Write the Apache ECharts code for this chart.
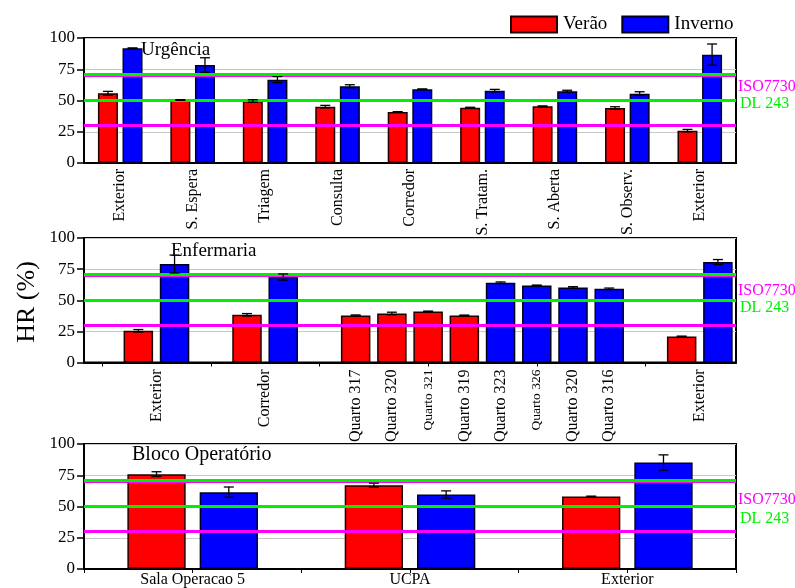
<!DOCTYPE html>
<html>
<head>
<meta charset="utf-8">
<script src="https://cdn.jsdelivr.net/npm/echarts@6/dist/echarts.min.js"></script>
<style>
  html, body { margin: 0; padding: 0; background: #fff; }
  #chart { width: 795px; height: 588px; }
</style>
</head>
<body>
<div id="chart"></div>
<script>
// ---- Urgência ----
const URG_CATS = ['Exterior', 'S. Espera', 'Triagem', 'Consulta', 'Corredor', 'S. Tratam.', 'S. Aberta', 'S. Observ.', 'Exterior'];
const URG_VERAO = [55.8, 50.4, 49.6, 45.1, 40.8, 44.3, 45.4, 44.0, 25.9];
const URG_VERAO_ERR = [1.5, 0.3, 1.0, 1.0, 0.3, 0.3, 0.3, 1.0, 1.0];
const URG_INVERNO = [91.8, 78.4, 66.7, 61.4, 59.0, 57.9, 57.4, 55.5, 86.7];
const URG_INVERNO_ERR = [0.3, 5.8, 2.4, 1.2, 0.3, 1.0, 0.8, 1.5, 8.5];

// ---- Enfermaria (one slot per bar, empty slots separate the groups) ----
const ENF_SLOTS = ['', 'Exterior', 'Exterior', '', 'Corredor', 'Corredor', '',
  'Quarto 317', 'Quarto 320', 'Quarto 321', 'Quarto 319',
  'Quarto 323', 'Quarto 326', 'Quarto 320', 'Quarto 316', '', 'Exterior', 'Exterior'];
const ENF_VERAO = [null, 25.5, null, null, 38.3, null, null, 37.8, 39.4, 41.0, 37.8, null, null, null, null, null, 20.9, null];
const ENF_VERAO_ERR = [null, 1.0, null, null, 1.0, null, null, 0.4, 1.0, 0.3, 0.3, null, null, null, null, null, 0.3, null];
const ENF_INVERNO = [null, null, 79.1, null, null, 68.6, null, null, null, null, null, 64.1, 61.9, 60.3, 59.2, null, null, 80.7];
const ENF_INVERNO_ERR = [null, null, 7.2, null, null, 2.5, null, null, null, null, null, 0.6, 0.3, 0.6, 0.6, null, null, 2.0];

// ---- Bloco Operatório ----
const BLOCO_CATS = ['Sala Operacao 5', 'UCPA', 'Exterior'];
const BLOCO_VERAO = [75.9, 67.1, 58.0];
const BLOCO_VERAO_ERR = [1.9, 1.5, 0.3];
const BLOCO_INVERNO = [61.5, 59.6, 85.2];
const BLOCO_INVERNO_ERR = [4.1, 2.9, 6.1];

// ---- Reference limits ----
const ISO7730_LIMITS = [30, 70];
const DL243_LIMITS = [50, 70.8];

const PANEL_TITLES = ['Urgência', 'Enfermaria', 'Bloco Operatório'];

const FONT = 'Liberation Serif';
const RED = '#ff0000';
const BLUE = '#0000ff';
const MAGENTA = '#ff00ff';
const GREEN = '#00f000';

// Grid geometry
const GRIDS = [
  { left: 84, right: 59, top: 38, height: 125 },
  { left: 84, right: 59, top: 238, height: 124.5 },
  { left: 84, right: 59, top: 444, height: 125 }
];

// Bar geometry (px) used both by bar series and error bar offsets
const URG_BAR_W = 20, URG_GAP = 4.6;
const ENF_BAR_W = 29.5;
const BLOCO_BAR_W = 58.3, BLOCO_GAP = 14;

// Label axis for Enfermaria: half-slot positions (2*nSlots + 1 points)
const enfLabelAxis = [];
for (let i = 0; i <= ENF_SLOTS.length * 2; i++) enfLabelAxis.push('');
for (let k = 0; k < ENF_SLOTS.length; k++) {
  const name = ENF_SLOTS[k];
  if (!name) continue;
  if (k > 0 && ENF_SLOTS[k - 1] === name) continue;
  if (ENF_SLOTS[k + 1] === name) enfLabelAxis[2 * k + 2] = name;
  else enfLabelAxis[2 * k + 1] = name;
}
const SMALL_LABELS = ['Quarto 321', 'Quarto 326'];

// Label axis for Bloco: half-category points
const blocoLabelAxis = [];
for (let i = 0; i <= BLOCO_CATS.length * 2; i++) blocoLabelAxis.push(i % 2 ? BLOCO_CATS[(i - 1) / 2] : '');

function errData(vals, errs) {
  const out = [];
  vals.forEach((v, i) => { if (v != null) out.push([i, v, errs[i]]); });
  return out;
}

function errSeries(xi, yi, vals, errs, offset) {
  return {
    type: 'custom',
    xAxisIndex: xi,
    yAxisIndex: yi,
    z: 6,
    silent: true,
    encode: { x: 0, y: 1 },
    data: errData(vals, errs),
    renderItem: function (params, api) {
      const x = api.value(0), v = api.value(1), e = api.value(2);
      const t = api.coord([x, v + e]);
      const b = api.coord([x, v - e]);
      const cx = t[0] + offset;
      const cap = 5;
      const style = { stroke: '#000', lineWidth: 1.3 };
      return {
        type: 'group',
        children: [
          { type: 'line', shape: { x1: cx, y1: t[1], x2: cx, y2: b[1] }, style: style },
          { type: 'line', shape: { x1: cx - cap, y1: t[1], x2: cx + cap, y2: t[1] }, style: style },
          { type: 'line', shape: { x1: cx - cap, y1: b[1], x2: cx + cap, y2: b[1] }, style: style }
        ]
      };
    }
  };
}

function limitSeries(xi, yi) {
  const lines = [];
  ISO7730_LIMITS.forEach(v => lines.push({ yAxis: v, lineStyle: { color: MAGENTA } }));
  DL243_LIMITS.forEach(v => lines.push({ yAxis: v, lineStyle: { color: GREEN } }));
  return {
    type: 'line',
    xAxisIndex: xi,
    yAxisIndex: yi,
    data: [],
    z: 5,
    silent: true,
    markLine: {
      silent: true,
      symbol: 'none',
      label: { show: false },
      lineStyle: { width: 3, type: 'solid' },
      emphasis: { disabled: true },
      data: lines
    }
  };
}

const barStyleRed = { color: RED, borderColor: '#200000', borderWidth: 1.5 };
const barStyleBlue = { color: BLUE, borderColor: '#000020', borderWidth: 1.5 };

function yAxis(gi) {
  return {
    type: 'value',
    gridIndex: gi,
    min: 0, max: 100, interval: 25,
    axisLine: { show: true, lineStyle: { color: '#000', width: 2 } },
    axisTick: { show: true, inside: false, length: 7, lineStyle: { color: '#000', width: 1.5 } },
    axisLabel: { fontFamily: FONT, fontSize: 17, color: '#000', margin: 9 },
    splitLine: { show: true, lineStyle: { color: '#c8c8c8', width: 1 } }
  };
}

const series = [
  // Urgência
  { name: 'Verão', type: 'bar', xAxisIndex: 0, yAxisIndex: 0, data: URG_VERAO, barWidth: URG_BAR_W, barGap: (URG_GAP / URG_BAR_W * 100) + '%', itemStyle: barStyleRed, z: 3 },
  { name: 'Inverno', type: 'bar', xAxisIndex: 0, yAxisIndex: 0, data: URG_INVERNO, barWidth: URG_BAR_W, itemStyle: barStyleBlue, z: 3 },
  limitSeries(0, 0),
  errSeries(0, 0, URG_VERAO, URG_VERAO_ERR, -(URG_BAR_W + URG_GAP) / 2),
  errSeries(0, 0, URG_INVERNO, URG_INVERNO_ERR, (URG_BAR_W + URG_GAP) / 2),
  // Enfermaria
  { name: 'Verão', type: 'bar', xAxisIndex: 1, yAxisIndex: 1, data: ENF_VERAO, barWidth: ENF_BAR_W, barGap: '-100%', itemStyle: barStyleRed, z: 3 },
  { name: 'Inverno', type: 'bar', xAxisIndex: 1, yAxisIndex: 1, data: ENF_INVERNO, barWidth: ENF_BAR_W, itemStyle: barStyleBlue, z: 3 },
  limitSeries(1, 1),
  errSeries(1, 1, ENF_VERAO, ENF_VERAO_ERR, 0),
  errSeries(1, 1, ENF_INVERNO, ENF_INVERNO_ERR, 0),
  // Bloco Operatório
  { name: 'Verão', type: 'bar', xAxisIndex: 3, yAxisIndex: 2, data: BLOCO_VERAO, barWidth: BLOCO_BAR_W, barGap: (BLOCO_GAP / BLOCO_BAR_W * 100) + '%', itemStyle: barStyleRed, z: 3 },
  { name: 'Inverno', type: 'bar', xAxisIndex: 3, yAxisIndex: 2, data: BLOCO_INVERNO, barWidth: BLOCO_BAR_W, itemStyle: barStyleBlue, z: 3 },
  limitSeries(3, 2),
  errSeries(3, 2, BLOCO_VERAO, BLOCO_VERAO_ERR, -(BLOCO_BAR_W + BLOCO_GAP) / 2),
  errSeries(3, 2, BLOCO_INVERNO, BLOCO_INVERNO_ERR, (BLOCO_BAR_W + BLOCO_GAP) / 2)
];

const baseAxisLine = { show: true, onZero: false, lineStyle: { color: '#000', width: 2 } };

const option = {
  animation: false,
  backgroundColor: '#fff',
  textStyle: { fontFamily: FONT },
  legend: {
    data: ['Verão', 'Inverno'],
    left: 510,
    top: 15,
    padding: 0,
    itemWidth: 46,
    itemHeight: 16,
    itemGap: 14,
    icon: 'rect',
    selectedMode: false,
    textStyle: { fontFamily: FONT, fontSize: 19, color: '#000', padding: [0, 0, 0, 1] }
  },
  grid: GRIDS.map(g => Object.assign({ show: true, borderColor: '#000', borderWidth: 2, backgroundColor: 'transparent' }, g)),
  xAxis: [
    {
      type: 'category', gridIndex: 0, data: URG_CATS,
      axisLine: baseAxisLine, axisTick: { show: false },
      axisLabel: { interval: 0, rotate: 90, fontFamily: FONT, fontSize: 16, color: '#000', margin: 6 }
    },
    {
      type: 'category', gridIndex: 1, data: ENF_SLOTS.map((_, i) => 's' + i),
      axisLine: baseAxisLine, axisTick: { show: false }, axisLabel: { show: false }
    },
    {
      type: 'category', gridIndex: 1, position: 'bottom', boundaryGap: false,
      data: enfLabelAxis.map((_, i) => String(i)),
      axisLine: { show: false },
      axisTick: { show: true, length: 4, lineStyle: { color: '#000' }, interval: idx => (idx - 1) % 6 === 0 },
      axisLabel: {
        rotate: 90, margin: 7, color: '#000',
        interval: idx => enfLabelAxis[idx] !== '',
        formatter: v => {
          const t = enfLabelAxis[+v];
          return SMALL_LABELS.indexOf(t) >= 0 ? '{s|' + t + '}' : '{n|' + t + '}';
        },
        rich: {
          n: { fontFamily: FONT, fontSize: 16, color: '#000' },
          s: { fontFamily: FONT, fontSize: 13.5, color: '#000' }
        }
      }
    },
    {
      type: 'category', gridIndex: 2, data: BLOCO_CATS,
      axisLine: baseAxisLine, axisTick: { show: false }, axisLabel: { show: false }
    },
    {
      type: 'category', gridIndex: 2, position: 'bottom', boundaryGap: false,
      data: blocoLabelAxis.map((_, i) => String(i)),
      axisLine: { show: false },
      axisTick: { show: true, length: 4, lineStyle: { color: '#000' }, interval: 0 },
      axisLabel: {
        margin: 3, color: '#000', fontFamily: FONT, fontSize: 16,
        interval: idx => blocoLabelAxis[idx] !== '',
        formatter: v => blocoLabelAxis[+v]
      }
    }
  ],
  yAxis: [yAxis(0), yAxis(1), yAxis(2)],
  series: series,
  graphic: [
    { type: 'text', left: 141, top: 41, style: { text: PANEL_TITLES[0], font: '19px "Liberation Serif"', fill: '#000' }, z: 10 },
    { type: 'text', left: 171, top: 242, style: { text: PANEL_TITLES[1], font: '19px "Liberation Serif"', fill: '#000' }, z: 10 },
    { type: 'text', left: 132, top: 445, style: { text: PANEL_TITLES[2], font: '20px "Liberation Serif"', fill: '#000' }, z: 10 },
    {
      type: 'text', x: 27, y: 302, rotation: Math.PI / 2,
      style: { text: 'HR (%)', font: '26px "Liberation Serif"', fill: '#000', align: 'center', verticalAlign: 'middle' }
    },
    { type: 'text', left: 738, top: 79, style: { text: 'ISO7730', font: '16px "Liberation Serif"', fill: MAGENTA } },
    { type: 'text', left: 740, top: 96, style: { text: 'DL 243', font: '16px "Liberation Serif"', fill: GREEN } },
    { type: 'text', left: 738, top: 283, style: { text: 'ISO7730', font: '16px "Liberation Serif"', fill: MAGENTA } },
    { type: 'text', left: 740, top: 300, style: { text: 'DL 243', font: '16px "Liberation Serif"', fill: GREEN } },
    { type: 'text', left: 738, top: 492, style: { text: 'ISO7730', font: '16px "Liberation Serif"', fill: MAGENTA } },
    { type: 'text', left: 740, top: 511, style: { text: 'DL 243', font: '16px "Liberation Serif"', fill: GREEN } }
  ]
};

const chart = echarts.init(document.getElementById('chart'), null, { renderer: 'canvas' });
chart.setOption(option);
</script>
</body>
</html>
